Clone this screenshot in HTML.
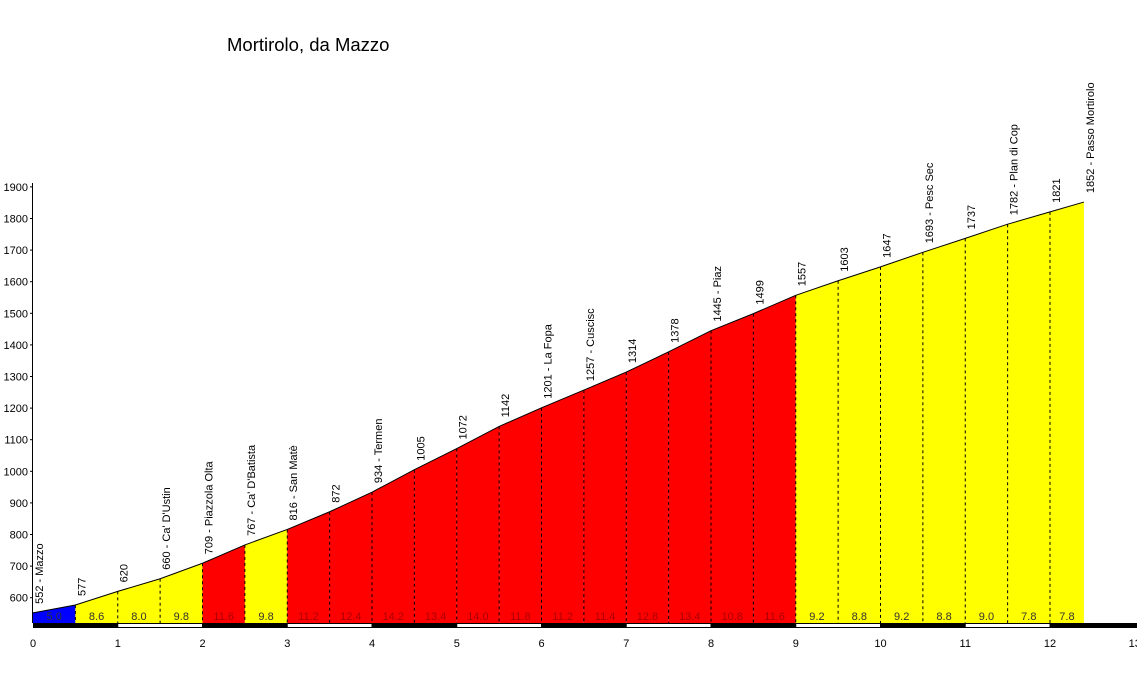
<!DOCTYPE html>
<html><head><meta charset="utf-8"><style>
html,body{margin:0;padding:0;background:#fff;}
svg{display:block;font-family:"Liberation Sans",Arial,sans-serif;}
</style></head><body>
<svg id="s" width="1137" height="673" xmlns="http://www.w3.org/2000/svg">
<text x="227" y="51" font-size="18.5">Mortirolo, da Mazzo</text>
</svg>
<script>
const s=document.getElementById('s');const NS='http://www.w3.org/2000/svg';
function el(t,a,txt){const e=document.createElementNS(NS,t);for(const k in a)e.setAttribute(k,a[k]);if(txt!==undefined)e.textContent=txt;s.appendChild(e);return e;}
const X=k=>33+84.75*k, Y=e=>597.7-(e-600)*0.316, B=623;
const el_=[552,577,620,660,709,767,816,872,934,1005,1072,1142,1201,1257,1314,1378,1445,1499,1557,1603,1647,1693,1737,1782,1821,1852];
const km=el_.map((_,i)=>i<25?i*0.5:12.4);
const names={0:'Mazzo',3:"Ca' D'Ustin",4:'Piazzola Olta',5:"Ca' D'Batista",6:'San Matè',8:'Termen',12:'La Fopa',13:'Cuscisc',16:'Piaz',21:'Pesc Sec',23:'Plan di Cop',25:'Passo Mortirolo'};
const pct=['5.0','8.6','8.0','9.8','11.6','9.8','11.2','12.4','14.2','13.4','14.0','11.8','11.2','11.4','12.8','13.4','10.8','11.6','9.2','8.8','9.2','8.8','9.0','7.8','7.8'];
function col(i){if(i==0)return '#0000ff';if(i<=3||i==5||i>=18)return '#ffff00';return '#ff0000';}
for(let i=0;i<25;i++){
 const x1=X(km[i]),x2=X(km[i+1]);
 el('polygon',{points:`${x1},${B} ${x1},${Y(el_[i])} ${x2},${Y(el_[i+1])} ${x2},${B}`,fill:col(i)});
}
for(let i=1;i<25;i++){el('line',{x1:X(km[i]),x2:X(km[i]),y1:Y(el_[i]),y2:B,stroke:'#000','stroke-dasharray':'3,3','stroke-width':1});}
el('polyline',{points:el_.map((e,i)=>X(km[i])+','+Y(e)).join(' '),fill:'none',stroke:'#000','stroke-width':1});
for(let i=0;i<25;i++){const xc=(X(km[i])+X(km[i+1]))/2;el('text',{x:xc,y:620,'font-size':11,'text-anchor':'middle',fill:col(i)=='#ff0000'?'#a00':'#333'},pct[i]);}
for(let k=0;k<13;k++){const x1=X(k),x2=k<12?X(k+1):1137;
 if(k%2==0||k==12)el('rect',{x:x1,y:B,width:x2-x1,height:5,fill:'#000'});
 else el('rect',{x:x1,y:B+0.5,width:x2-x1,height:4,fill:'#fff',stroke:'#000','stroke-width':1});}
for(let k=0;k<=13;k++)el('text',{x:X(k),y:647,'font-size':11,'text-anchor':'middle'},String(k));
el('line',{x1:32.5,x2:32.5,y1:183,y2:B,stroke:'#000'});
for(let v=600;v<=1900;v+=100){const y=Y(v);el('line',{x1:30,x2:33,y1:y,y2:y,stroke:'#000'});el('text',{x:28,y:y+4,'font-size':11,'text-anchor':'end'},String(v));}
for(let i=0;i<26;i++){const x=X(km[i])+10,y=Y(el_[i])-9;const t=names[i]?el_[i]+' - '+names[i]:String(el_[i]);
 el('text',{x:x,y:y,'font-size':11,transform:`rotate(-90 ${x} ${y})`},t);}
</script>
</body></html>
